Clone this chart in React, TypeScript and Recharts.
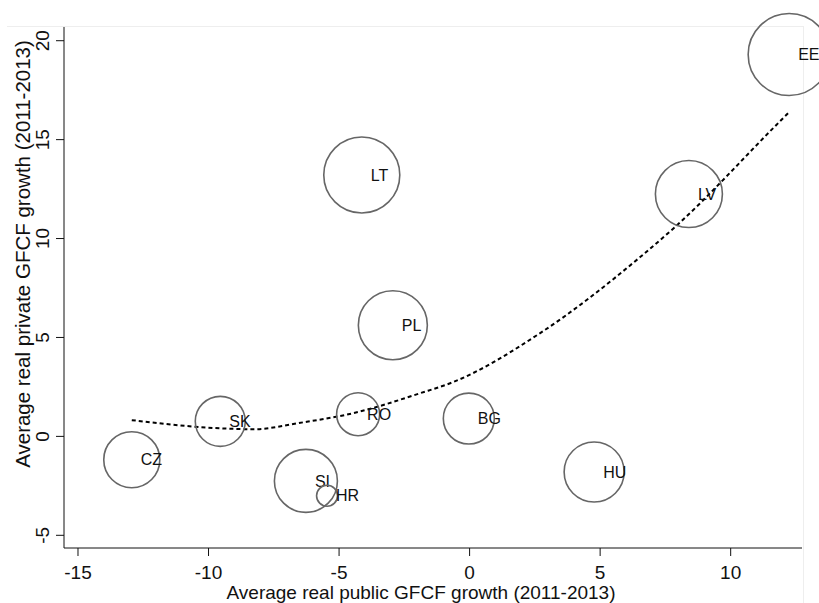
import {
	ComposedChart,
	Line,
	Scatter,
	XAxis,
	YAxis,
	ZAxis,
} from "recharts";

// countries: public GFCF growth (x), private GFCF growth (y), bubble weight (z)
const countries = ["EE", "LT", "LV", "PL", "RO", "BG", "SK", "CZ", "SI", "HR", "HU"];
const publicGrowth = [12.24, -4.13, 8.4, -2.94, -4.27, -0.03, -9.55, -12.94, -6.27, -5.46, 4.77];
const privateGrowth = [19.3, 13.21, 12.25, 5.62, 1.12, 0.9, 0.76, -1.18, -2.25, -3.0, -1.8];
const weights = [67.2, 57.8, 44.9, 47.6, 18.5, 26.0, 25.0, 31.4, 39.7, 4.4, 36.0];

// fitted curve
const fitX = [-12.94, -9.57, -8.3, -6.38, -4.47, -1.9, -0.64, 2.69, 6.52, 7.94, 11.74, 12.24];
const fitY = [0.82, 0.41, 0.36, 0.71, 1.17, 2.18, 2.74, 5.21, 9.05, 10.67, 15.73, 16.39];

const xTicks = [-15, -10, -5, 0, 5, 10];
const yTicks = [-5, 0, 5, 10, 15, 20];

const bubbles = countries.map((name, i) => ({
	name,
	x: publicGrowth[i],
	y: privateGrowth[i],
	z: weights[i],
}));
const fit = fitX.map((x, i) => ({ x, y: fitY[i] }));

const FONT = "'Liberation Sans', Arial, sans-serif";

const Bubble = (props: any) => {
	const { cx, cy, width, size, payload } = props;
	const r = width ? width / 2 : Math.sqrt(size / Math.PI);
	return (
		<g>
			<circle cx={cx} cy={cy} r={r} fill="none" stroke="#666" strokeWidth={1.6} />
			<text x={cx + 9} y={cy} dy="0.36em" fontSize={16} fontFamily={FONT} fill="#111">
				{payload.name}
			</text>
		</g>
	);
};

const XTick = (props: any) => {
	const { x, payload } = props;
	return (
		<text x={x} y={572} dy="0.36em" textAnchor="middle" fontSize={19} fontFamily={FONT} fill="#111">
			{payload.value}
		</text>
	);
};

const YTick = (props: any) => {
	const { y, payload } = props;
	const tx = 42;
	return (
		<text
			x={tx}
			y={y}
			dy="0.36em"
			textAnchor="middle"
			transform={`rotate(-90 ${tx} ${y})`}
			fontSize={19}
			fontFamily={FONT}
			fill="#111"
		>
			{payload.value}
		</text>
	);
};

export default function App() {
	return (
		<div style={{ position: "absolute", left: 0, top: 0, width: 819, height: 603, background: "#fff" }}>
			<div
				style={{
					position: "absolute",
					left: 7,
					top: 26,
					width: 796,
					height: 577,
					borderTop: "1px solid #eeeeee",
					borderRight: "1px solid #eeeeee",
				}}
			/>
			<ComposedChart
				width={819}
				height={603}
				margin={{ top: 27, right: 17, bottom: 0, left: 0 }}
				style={{ position: "absolute", left: 0, top: 0 }}
			>
				<XAxis
					type="number"
					dataKey="x"
					domain={[-15.536, 12.732]}
					ticks={xTicks}
					tick={<XTick />}
					tickSize={8}
					height={55}
					stroke="#111"
					label={() => (
						<text x={421} y={592} dy="0.36em" textAnchor="middle" fontSize={19} fontFamily={FONT} fill="#111">
							Average real public GFCF growth (2011-2013)
						</text>
					)}
				/>
				<YAxis
					type="number"
					dataKey="y"
					domain={[-5.642, 20.693]}
					ticks={yTicks}
					tick={<YTick />}
					tickSize={8}
					width={64}
					stroke="#111"
					label={() => (
						<text
							x={23}
							y={254}
							dy="0.36em"
							textAnchor="middle"
							transform="rotate(-90 23 254)"
							fontSize={20.5}
							fontFamily={FONT}
							fill="#111"
						>
							Average real private GFCF growth (2011-2013)
						</text>
					)}
				/>
				<ZAxis type="number" dataKey="z" domain={[0, 100]} range={[0, Math.PI * 2500]} />
				<Scatter data={bubbles} shape={<Bubble />} isAnimationActive={false} />
				<Line
					data={fit}
					dataKey="y"
					type="monotone"
					stroke="#000"
					strokeWidth={2}
					strokeDasharray="4 3"
					dot={false}
					activeDot={false}
					isAnimationActive={false}
				/>
			</ComposedChart>
		</div>
	);
}
